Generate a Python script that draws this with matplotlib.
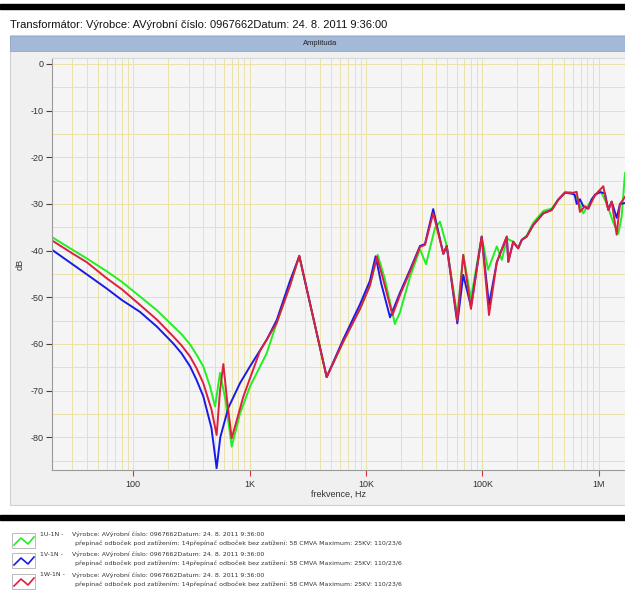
import numpy as np
import matplotlib.pyplot as plt
from matplotlib.patches import Rectangle
from matplotlib.lines import Line2D
from matplotlib.ticker import FixedLocator, LogLocator, MultipleLocator, NullFormatter

# frequency response (Hz, dB)
f_1u = [20, 30, 40, 59, 80, 114, 160, 221, 260, 308, 350, 400, 457, 505, 557, 620, 702, 827,
        1008, 1402, 1709, 1824, 2223, 2673, 4594, 6380, 8880, 10800, 12600, 14500, 17700,
        19600, 23900, 29100, 32800, 39100, 43200, 49400, 60900, 68500, 79800, 98600, 112000,
        133000, 147000, 162000, 184000, 203000, 218000, 240000, 274000, 334000, 394000,
        449000, 513000, 585000, 646000, 736000, 869000, 1025000, 1169000, 1333000,
        1471000, 1573000, 1680000]
db_1u = [-37.1, -39.8, -41.7, -44.4, -46.7, -49.8, -52.8, -56.2, -57.9, -60.1, -62.3, -64.8,
         -69.1, -73.4, -66.2, -72, -82, -74.9, -69.1, -62, -55.5, -53.5, -47.5, -41.1, -67.1,
         -59.5, -52.5, -47.5, -40.9, -46, -55.7, -53.2, -45.6, -39.7, -42.9, -35.2, -33.8,
         -39, -54, -40.9, -50.2, -37, -44.1, -39.1, -42, -37.4, -38.1, -39.5, -37.7, -36.8,
         -34, -31.5, -31, -29, -27.4, -27.5, -28.5, -32, -29.1, -27, -29.9, -34, -36.4,
         -32.7, -23.4]

f_1v = [20, 30, 40, 59, 80, 114, 160, 221, 260, 308, 350, 400, 470, 521, 560, 656, 827, 1008,
        1402, 1709, 2223, 2673, 4594, 6380, 8880, 10800, 12100, 13500, 16100, 19600, 23900,
        29100, 32100, 37800, 46200, 49400, 60900, 68500, 79800, 98600, 114000, 133000,
        162000, 167000, 184000, 203000, 218000, 240000, 274000, 334000, 394000, 449000,
        513000, 585000, 620000, 646000, 689000, 736000, 813000, 869000, 929000, 1025000,
        1130000, 1208000, 1291000, 1425000, 1521000, 1680000]
db_1v = [-39.8, -42.9, -45.1, -48.1, -50.6, -53.1, -56.3, -59.9, -62, -64.8, -67.7, -71.2,
         -78, -86.6, -80, -73.7, -68.4, -64.8, -59.1, -54.9, -46.5, -41.2, -67.1, -59, -51.5,
         -46.5, -41.2, -47, -54.3, -49, -44.1, -39, -38.6, -31.1, -40.7, -39, -55.6, -45.2,
         -52, -37, -51.6, -42.5, -37, -42.4, -38.1, -39.5, -37.7, -37, -34.5, -32, -31.3,
         -29.1, -27.6, -27.8, -28, -30, -29, -30.5, -31, -29, -28, -27.5, -27.7, -31.3,
         -29.5, -33, -30, -29.8]

f_1w = [20, 30, 40, 59, 80, 114, 160, 221, 260, 308, 350, 400, 470, 521, 557, 595, 640, 702,
        883, 1227, 1709, 1824, 2223, 2673, 4594, 6380, 8880, 10800, 12400, 14000, 16900,
        19600, 23900, 29100, 32100, 37800, 46200, 49400, 60900, 68500, 79800, 98600, 114000,
        133000, 162000, 167000, 184000, 203000, 218000, 240000, 274000, 334000, 394000,
        449000, 513000, 585000, 646000, 689000, 762000, 813000, 929000, 1094000, 1169000,
        1208000, 1291000, 1425000, 1521000, 1680000]
db_1w = [-37.8, -40.6, -42.5, -45.9, -48.3, -51.6, -54.8, -58.4, -60.3, -62.7, -65.2, -68.4,
         -74, -79.5, -70, -64.3, -72, -80.2, -71.3, -61.5, -55.5, -53.5, -47.5, -41.1, -67.1,
         -59.5, -52.5, -47.5, -41.3, -46, -53.8, -49.5, -44.5, -39.2, -38.8, -32, -40.7, -39,
         -55, -40.9, -52.5, -37, -53.8, -42.5, -37, -42.4, -38.1, -39.5, -37.7, -37, -34.5,
         -32, -31.3, -29.1, -27.6, -27.7, -27.4, -31.7, -30.5, -31, -28.1, -26.2, -30, -31.3,
         -29.5, -36.6, -30, -28.5]

x_ticks = [100, 1e3, 1e4, 1e5, 1e6]
x_labels = ['100', '1K', '10K', '100K', '1M']

names = ['1U-1N -', '1V-1N -', '1W-1N -']
colors = ['#22ee22', '#1a1ae6', '#dc2040']
line1 = 'Výrobce: AVýrobní číslo: 0967662Datum: 24. 8. 2011 9:36:00'
line2 = 'přepínač odboček pod zatížením: 14přepínač odboček bez zatížení: 58 CMVA Maximum: 25KV: 110/23/6'

plt.rcParams['font.family'] = ['Liberation Sans', 'DejaVu Sans']
plt.rcParams['axes.unicode_minus'] = False

W, H = 625, 593
fig = plt.figure(figsize=(W / 100, H / 100), dpi=100)

def fx(px):
    return px / W

def fy(py):
    return 1 - py / H

# frame pieces (figure coordinates), kept below the axes
fig.patches.append(Rectangle((0, fy(9)), 1, fy(4) - fy(9), transform=fig.transFigure,
                             color='black', zorder=-5))
fig.patches.append(Rectangle((fx(10), fy(505)), 1, fy(35) - fy(505), transform=fig.transFigure,
                             facecolor='#f0f0f0', edgecolor='#d0d0d0', lw=0.8, zorder=-5))
fig.patches.append(Rectangle((fx(10), fy(51)), 1, fy(36) - fy(51), transform=fig.transFigure,
                             facecolor='#a3b9d8', edgecolor='#8ea6c8', lw=0.6, zorder=-4))
fig.patches.append(Rectangle((0, fy(520)), 1, fy(515) - fy(520), transform=fig.transFigure,
                             color='black', zorder=-5))

fig.text(fx(10), fy(25), 'Transformátor: Výrobce: AVýrobní číslo: 0967662Datum: 24. 8. 2011 9:36:00',
         fontsize=8, va='center', ha='left', color='#111111')
fig.text(fx(320), fy(43.5), 'Amplituda', fontsize=5.5, va='center', ha='center', color='#222222')

ax = fig.add_axes([fx(51.7), fy(470), 1 - fx(51.7), fy(58.3) - fy(470)])
ax.set_zorder(2)
ax.set_facecolor('#f5f5f5')
ax.plot(f_1u, db_1u, color=colors[0], lw=1.4)
ax.plot(f_1v, db_1v, color=colors[1], lw=1.4)
ax.plot(f_1w, db_1w, color=colors[2], lw=1.4)

ax.set_xscale('log')
ax.set_xlim(19.94, 1.68e6)
ax.set_ylim(-87, 1.2)

ax.xaxis.set_major_locator(FixedLocator(x_ticks))
ax.set_xticklabels(x_labels)
ax.xaxis.set_minor_locator(LogLocator(base=10, subs=np.arange(2, 10)))
ax.xaxis.set_minor_formatter(NullFormatter())
ax.yaxis.set_major_locator(MultipleLocator(10))
ax.yaxis.set_minor_locator(MultipleLocator(5))
ax.set_yticks(np.arange(-80, 1, 10))

ax.grid(True, which='both', color='#ebe1a8', lw=0.7)
ax.set_axisbelow(True)
ax.tick_params(axis='x', which='major', length=4, width=0.8, color='#e03030',
               labelsize=6.5, labelcolor='#333333', pad=3)
ax.tick_params(axis='x', which='minor', length=0)
ax.tick_params(axis='y', which='major', length=4, width=0.8, color='#444444',
               labelsize=6.5, labelcolor='#333333', pad=2)
ax.tick_params(axis='y', which='minor', length=0)
for s in ['left', 'bottom']:
    ax.spines[s].set_color('#9a9a9a')
ax.spines['top'].set_color('#d8d8d8')
ax.spines['right'].set_visible(False)
ax.set_xlabel('frekvence, Hz', fontsize=6.5, color='#333333', labelpad=1)
ax.set_ylabel('dB', fontsize=6.5, color='#333333', labelpad=4)

# legend block at the bottom
row_top = [533, 553, 574]
for i in range(3):
    top = row_top[i]
    fig.patches.append(Rectangle((fx(12), fy(top + 15)), fx(23), fy(top) - fy(top + 15),
                                 transform=fig.transFigure, facecolor='white',
                                 edgecolor='#b0b0b0', lw=0.6))
    zx = [14, 21, 28, 34]
    zy = [top + 12, top + 5, top + 11, top + 4]
    fig.add_artist(Line2D([fx(v) for v in zx], [fy(v) for v in zy], color=colors[i], lw=1.2,
                          transform=fig.transFigure))
    fig.text(fx(40), fy(top + 1), names[i], fontsize=4.5, family=['DejaVu Sans'],
             va='center', color='#333333')
    fig.text(fx(72), fy(top + 1), line1, fontsize=4.5, family=['DejaVu Sans'],
             va='center', color='#333333')
    fig.text(fx(75), fy(top + 10), line2, fontsize=4.5, family=['DejaVu Sans'],
             va='center', color='#333333')

fig.savefig('out.png', dpi=100)
